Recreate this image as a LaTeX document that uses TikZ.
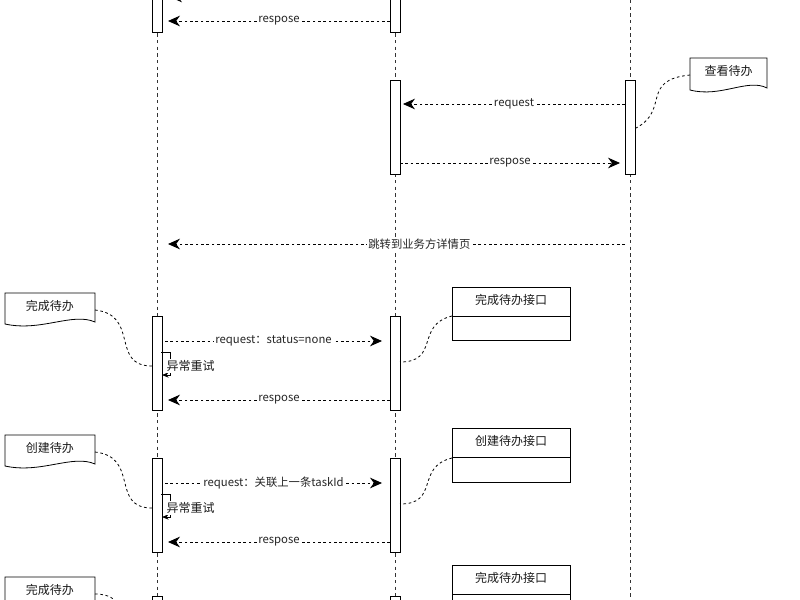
\documentclass[tikz,border=0pt]{standalone}
\usepackage{fontspec}
\setmainfont{Liberation Sans}
\newfontfamily\cjk{Noto Sans CJK SC}
\usetikzlibrary{arrows.meta}
\begin{document}
\begin{tikzpicture}[x=0.75pt,y=-0.75pt,
  life/.style={draw=black!80,dash pattern=on 2.5pt off 2.5pt,line width=0.5pt},
  bar/.style={draw=black,fill=white,line width=0.7pt},
  msg/.style={draw=black,line width=0.6pt,dash pattern=on 2pt off 2pt,-{Stealth[length=9pt,width=8pt]}},
  lbl/.style={fill=white,inner sep=1pt,font=\cjk\fontsize{8.5}{10}\selectfont,text=black!85},
  note/.style={draw=black,line width=0.6pt,dash pattern=on 2pt off 2pt},
  txt/.style={font=\cjk\fontsize{9}{11}\selectfont,text=black!90}]
\useasboundingbox (0,0) rectangle (800,600);
% lifelines
\coordinate (L1t) at (157,0); \coordinate (L1b) at (157,600);
\coordinate (L2t) at (395,0); \coordinate (L2b) at (395,600);
\coordinate (L3t) at (630,0); \coordinate (L3b) at (630,600);
\draw[life] (L1t)--(L1b); \draw[life] (L2t)--(L2b); \draw[life] (L3t)--(L3b);
% bars
\newcommand\bbar[3]{\node[bar,minimum width=7.5pt,minimum height={(#3-#2)*0.75pt},inner sep=0pt] (#1) at (#1x,{(#2+#3)/2}) {};}
\node[bar,minimum width=7.5pt,minimum height=30pt,inner sep=0pt] (a1) at (157,12) {};
\node[bar,minimum width=7.5pt,minimum height=30pt,inner sep=0pt] (a2) at (395,12) {};
\node[bar,minimum width=7.5pt,minimum height=71pt,inner sep=0pt] (b2) at (395,127.5) {};
\node[bar,minimum width=7.5pt,minimum height=71pt,inner sep=0pt] (b3) at (630,127.5) {};
\foreach \n/\y in {c/363.5,d/505.5}{
  \node[bar,minimum width=7.5pt,minimum height=70pt,inner sep=0pt] (\n1) at (157,\y) {};
  \node[bar,minimum width=7.5pt,minimum height=70pt,inner sep=0pt] (\n2) at (395,\y) {};
}
\node[bar,minimum width=7.5pt,minimum height=20pt,inner sep=0pt] (e1) at (157,610) {};
\node[bar,minimum width=7.5pt,minimum height=20pt,inner sep=0pt] (e2) at (395,610) {};
% top messages
\coordinate (t1) at (170,-3); \coordinate (t0) at (185,-3);
\draw[msg] (t0)--(t1);
\coordinate (r1s) at (390,21); \coordinate (r1e) at (168,21);
\draw[msg] (r1s)--node[lbl]{respose}(r1e);
\coordinate (q2s) at (625,104); \coordinate (q2e) at (403,104);
\draw[msg] (q2s)--node[lbl]{request}(q2e);
\coordinate (p2s) at (400,163); \coordinate (p2e) at (620,163);
\draw[msg] (p2s)--node[lbl]{respose}(p2e);
\coordinate (js) at (625,244); \coordinate (je) at (168,244);
\draw[msg] (js)--node[lbl,pos=0.45]{跳转到业务方详情页}(je);
% note shapes
\newcommand\docshape[6]{%
  \draw[line width=0.6pt,fill=white] (#2,#3) -- (#4,#3) -- (#4,{#5-4}) .. controls ({#4-0.25*(#4-#2)},{#5-14}) and ({#2+0.4*(#4-#2)},{#5+6}) .. (#2,{#5-2}) -- cycle;
  \node[txt,inner sep=0pt] (#1) at ({(#2+#4)/2},{(#3+#5)/2-4}) {#6};}
\docshape{n1}{690}{58}{767}{92}{查看待办}
\coordinate (n1a) at (690,75); \coordinate (n1b) at (636,128);
\draw[note] (n1a) .. controls (640,80) and (670,110) .. (n1b);
% box shapes
\newcommand\ifbox[5]{%
  \node[draw,line width=0.6pt,minimum width={118*0.75pt},minimum height={(#4-#3)*0.75pt},inner sep=0pt,anchor=north west,fill=white] (#1) at (#2,#3) {};
  \draw[line width=0.6pt] (#2,{#3+29}) -- ({#2+118},{#3+29});
  \node[txt] at ({#2+59},{#3+13}) {#5};}
\ifbox{ib1}{452}{287}{340}{完成待办接口}
\ifbox{ib2}{452}{428}{482}{创建待办接口}
\ifbox{ib3}{452}{565}{620}{完成待办接口}
% sections
\docshape{m1}{5}{293}{95}{326}{完成待办}
\docshape{m2}{5}{435}{95}{468}{创建待办}
\docshape{m3}{5}{577}{95}{610}{完成待办}
\foreach \o/\t in {0/request：status=none,142/request：关联上一条taskId}{
  \draw[note] (95,{310+\o}) .. controls (140,{315+\o}) and (110,{366+\o}) .. (152,{366+\o});
  \draw[note] (452,{316+\o}) .. controls (415,{325+\o}) and (440,{362+\o}) .. (400,{362+\o});
  \draw[msg] (165,{341+\o}) -- node[lbl]{\t} (382,{341+\o});
  \draw[line width=0.6pt,-{Stealth[length=5pt,width=4pt]}] (161,{352+\o}) -- (170,{352+\o}) -- (170,{375+\o}) -- (162,{375+\o});
  \node[txt,anchor=west,fill=white,inner sep=1pt] at (165,{366+\o}) {异常重试};
  \draw[msg] (390,{400+\o}) -- node[lbl]{respose} (168,{400+\o});
}
\draw[note] (95,594) .. controls (110,594) and (115,600) .. (118,604);
\end{tikzpicture}
\end{document}
